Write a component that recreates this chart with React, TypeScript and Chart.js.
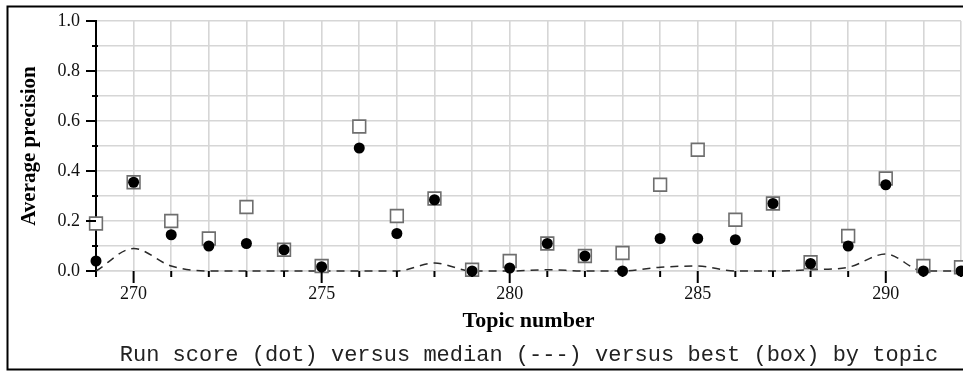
import React, { useEffect, useRef } from "react";
import { Chart, registerables } from "chart.js";

Chart.register(...registerables);

const topics = [269, 270, 271, 272, 273, 274, 275, 276, 277, 278, 279, 280, 281, 282, 283, 284, 285, 286, 287, 288, 289, 290, 291, 292];
const runScore = [0.04, 0.355, 0.145, 0.1, 0.11, 0.085, 0.017, 0.492, 0.15, 0.285, 0.0, 0.012, 0.11, 0.06, 0.0, 0.13, 0.13, 0.125, 0.27, 0.03, 0.1, 0.345, 0.0, 0.0];
const bestScore = [0.19, 0.355, 0.2, 0.13, 0.256, 0.085, 0.02, 0.578, 0.22, 0.29, 0.005, 0.04, 0.11, 0.06, 0.072, 0.345, 0.485, 0.205, 0.27, 0.035, 0.14, 0.37, 0.02, 0.015];
const medianScore = [0.0, 0.09, 0.02, 0.0, 0.0, 0.0, 0.0, 0.0, 0.0, 0.032, 0.0, 0.0, 0.005, 0.0, 0.0, 0.015, 0.02, 0.0, 0.0, 0.005, 0.015, 0.068, 0.0, 0.0];
const yTickLabels = ["0.0", "0.2", "0.4", "0.6", "0.8", "1.0"];
const xLabelStep = 5;

const yTitle = "Average precision";
const xTitle = "Topic number";
const caption = "Run score (dot) versus median (---) versus best (box) by topic";

const GRID = "#d6d6d6";

const decorPlugin = {
  id: "decor",
  afterDraw(chart: any) {
    const ctx = chart.ctx;
    const xs = chart.scales.x;
    const ys = chart.scales.y;
    const area = chart.chartArea;
    ctx.save();
    ctx.strokeStyle = "#000";
    ctx.lineWidth = 2;
    for (let i = 0; i <= 10; i++) {
      const v = i / 10;
      const py = ys.getPixelForValue(v);
      ctx.beginPath();
      if (i % 2 === 0) {
        ctx.moveTo(area.left - 10, py);
        ctx.lineTo(area.left, py);
      } else {
        ctx.moveTo(area.left - 4, py);
        ctx.lineTo(area.left + 2, py);
      }
      ctx.stroke();
    }
    for (const t of topics) {
      const px = xs.getPixelForValue(t);
      ctx.beginPath();
      ctx.moveTo(px, area.bottom);
      ctx.lineTo(px, area.bottom + (t % xLabelStep === 0 ? 12 : 6));
      ctx.stroke();
    }
    ctx.beginPath();
    ctx.moveTo(963, 6.5);
    ctx.lineTo(7.5, 6.5);
    ctx.lineTo(7.5, 369.5);
    ctx.lineTo(963, 369.5);
    ctx.stroke();
    ctx.fillStyle = "#222";
    ctx.font = '22px "Liberation Mono", monospace';
    ctx.textAlign = "center";
    ctx.textBaseline = "alphabetic";
    ctx.fillText(caption, 529, 361);
    ctx.restore();
  },
};

export default function App() {
  const ref = useRef<HTMLCanvasElement>(null);
  useEffect(() => {
    document.body.style.margin = "0";
    const canvas = ref.current!;
    const chart = new Chart(canvas, {
      type: "line",
      data: {
        datasets: [
          {
            label: "Run score",
            data: topics.map((t, i) => ({ x: t, y: runScore[i] })),
            showLine: false,
            pointStyle: "circle",
            pointRadius: 5.5,
            pointBackgroundColor: "#000",
            pointBorderColor: "#000",
            pointBorderWidth: 0,
            clip: false as any,
          },
          {
            label: "Best",
            data: topics.map((t, i) => ({ x: t, y: bestScore[i] })),
            showLine: false,
            pointStyle: "rect",
            pointRadius: 9,
            pointBackgroundColor: "#fff",
            pointBorderColor: "#6e6e6e",
            pointBorderWidth: 1.6,
            clip: false as any,
          },
          {
            label: "Median",
            data: topics.map((t, i) => ({ x: t, y: medianScore[i] })),
            borderColor: "#2a2a2a",
            borderWidth: 1.5,
            borderDash: [8, 6],
            pointRadius: 0,
            cubicInterpolationMode: "monotone",
            fill: false,
            clip: false as any,
          },
        ],
      },
      options: {
        animation: false,
        responsive: false,
        maintainAspectRatio: false,
        layout: { autoPadding: false, padding: { left: 0, right: 2, top: 21, bottom: 30 } },
        plugins: { legend: { display: false }, tooltip: { enabled: false } },
        scales: {
          x: {
            type: "linear",
            min: 269,
            max: 292,
            afterFit: (s: any) => {
              s.height = 71;
              s.paddingLeft = 0;
              s.paddingRight = 0;
            },
            grid: { color: GRID, lineWidth: 1.6, drawTicks: false },
            border: { color: GRID, width: 1.6 },
            ticks: {
              stepSize: 1,
              autoSkip: false,
              maxRotation: 0,
              padding: 12,
              color: "#111",
              font: { family: '"Liberation Serif", serif', size: 18 },
              callback: (v: any) => (Number(v) % xLabelStep === 0 ? String(v) : ""),
            },
            title: {
              display: true,
              text: xTitle,
              color: "#000",
              font: { family: '"Liberation Serif", serif', size: 22, weight: "bold" },
              padding: { top: 0, bottom: 7 },
            },
          },
          y: {
            type: "linear",
            min: 0,
            max: 1,
            afterFit: (s: any) => {
              s.width = 96;
              s.paddingTop = 0;
              s.paddingBottom = 0;
            },
            grid: { color: GRID, lineWidth: 1.6, drawTicks: false },
            border: { color: "#000", width: 2 },
            ticks: {
              stepSize: 0.1,
              padding: 16,
              color: "#111",
              font: { family: '"Liberation Serif", serif', size: 18 },
              callback: (v: any) => {
                const k = Math.round(Number(v) * 10);
                return k % 2 === 0 ? yTickLabels[k / 2] : "";
              },
            },
            title: {
              display: true,
              text: yTitle,
              color: "#000",
              font: { family: '"Liberation Serif", serif', size: 21, weight: "bold" },
              padding: { top: 17, bottom: 0 },
            },
          },
        },
      },
      plugins: [decorPlugin],
    } as any);
    return () => chart.destroy();
  }, []);
  return (
    <div style={{ position: "relative", width: 963, height: 372, background: "#fff" }}>
      <canvas ref={ref} width={963} height={372} style={{ display: "block", width: 963, height: 372 }} />
    </div>
  );
}
